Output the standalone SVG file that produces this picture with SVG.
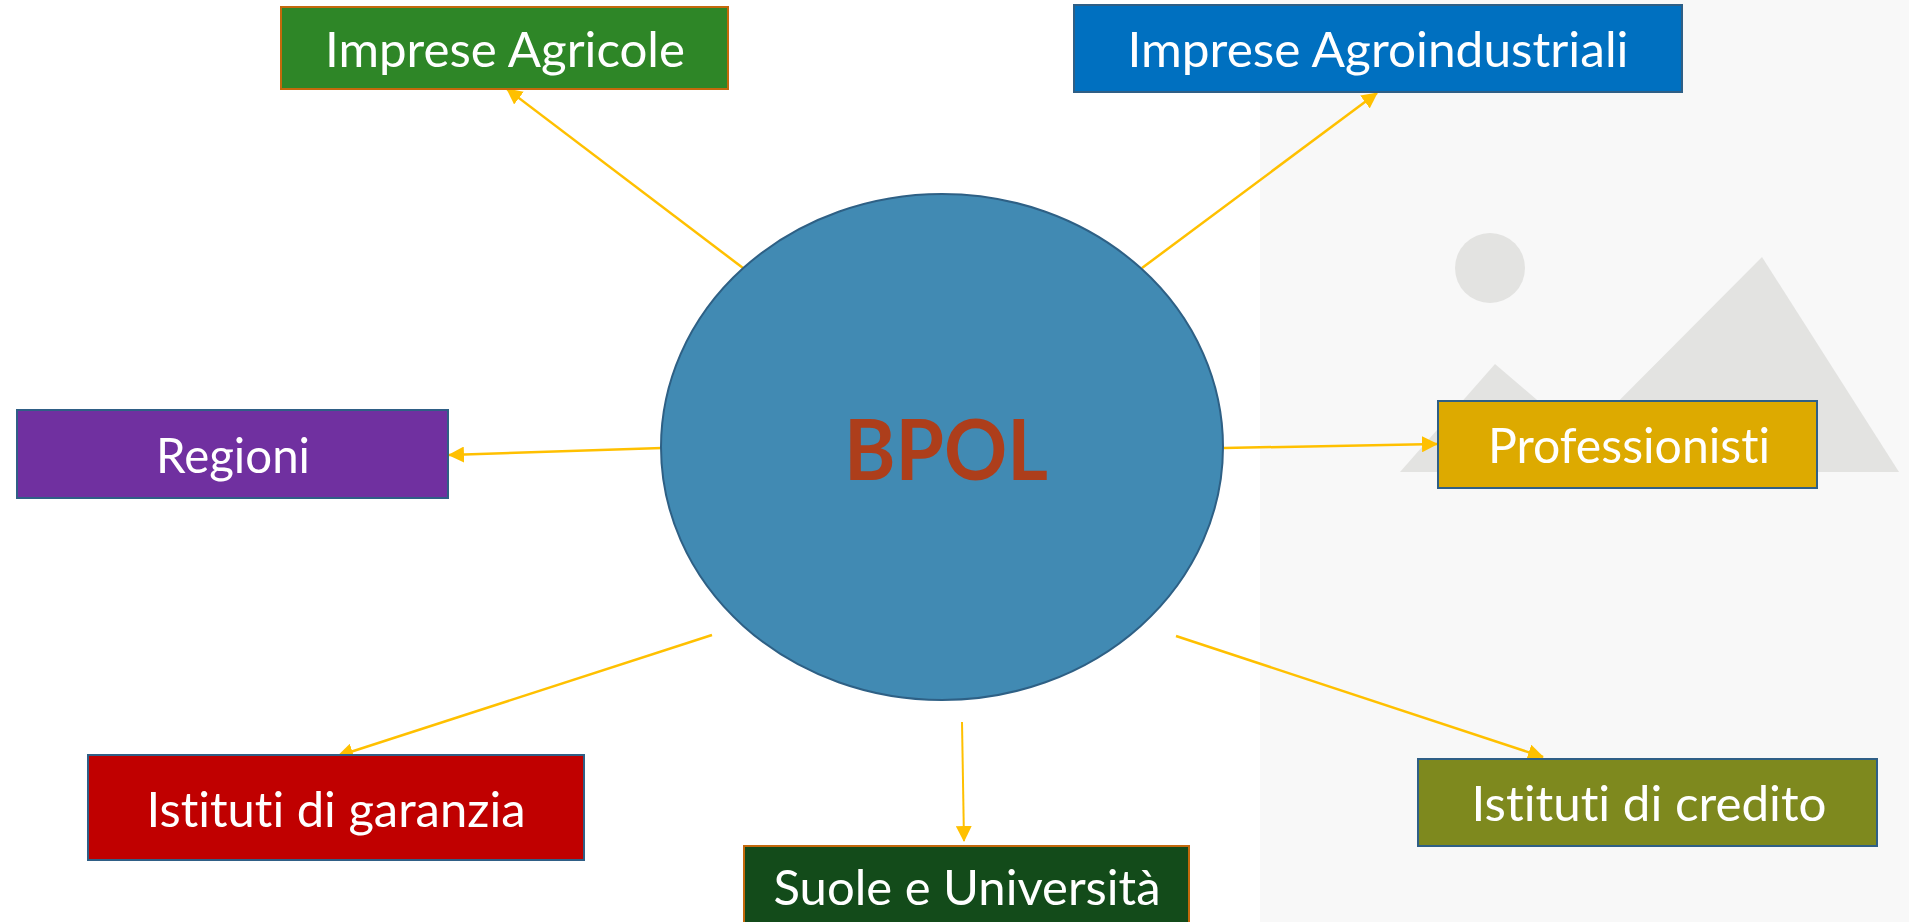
<svg xmlns="http://www.w3.org/2000/svg" width="1909" height="922" viewBox="0 0 1909 922">
<style>
text{font-variant-ligatures:none;font-feature-settings:"liga" 0,"clig" 0}
.lbl{font-family:Lato,"Open Sans","Liberation Sans",sans-serif;font-size:49px;fill:#ffffff;text-anchor:middle}
.box{stroke-width:2}
.ob{stroke:#C4690C}
.bb{stroke:#2F5F86}
.con{stroke:#FFC000;stroke-width:2.5;fill:none;marker-end:url(#ah)}
</style>
<defs>
<marker id="ah" markerUnits="userSpaceOnUse" markerWidth="16" markerHeight="16" refX="15" refY="8" orient="auto">
<path d="M0,0 L16,8 L0,16 z" fill="#FFC000"/>
</marker>
</defs>
<rect x="0" y="0" width="1909" height="922" fill="#ffffff"/>
<g id="background-picture">
<rect x="1260" y="0" width="649" height="922" fill="#F8F8F8"/>
<circle cx="1490" cy="268" r="35" fill="#E3E3E1"/>
<polygon points="1495,364 1621,472 1400,472" fill="#E3E3E1"/>
<polygon points="1762,257 1899,472 1548,472" fill="#E3E3E1"/>
</g>
<g id="connectors">
<path class="con" d="M743,268 L507,89"/>
<path class="con" d="M1142,268 L1377,93"/>
<path class="con" d="M662,448 L449,455"/>
<path class="con" d="M1224,448 L1437,444"/>
<path class="con" d="M712,635 L338,756"/>
<path class="con" style="stroke-width:2" d="M962,722 L964,841"/>
<path class="con" d="M1176,636 L1543,757"/>
</g>
<g id="bpol">
<ellipse cx="942" cy="447" rx="281" ry="253" fill="#418AB3" stroke="#2E6085" stroke-width="2"/>
<text x="946" y="480" font-family="Lato,'Open Sans','Liberation Sans',sans-serif" font-weight="bold" font-size="85" fill="#AD3E1B" text-anchor="middle" textLength="204" lengthAdjust="spacingAndGlyphs">BPOL</text>
</g>
<g id="imprese-agricole">
<rect class="box ob" x="281" y="7" width="447" height="82" fill="#2E8627"/>
<text class="lbl" x="505" y="67" textLength="360" lengthAdjust="spacingAndGlyphs">Imprese Agricole</text>
</g>
<g id="imprese-agroindustriali">
<rect class="box bb" x="1074" y="5" width="608" height="87" fill="#0070C0"/>
<text class="lbl" x="1378" y="67" textLength="501" lengthAdjust="spacingAndGlyphs">Imprese Agroindustriali</text>
</g>
<g id="regioni">
<rect class="box bb" x="17" y="410" width="431" height="88" fill="#7030A0"/>
<text class="lbl" x="233" y="473" textLength="154" lengthAdjust="spacingAndGlyphs">Regioni</text>
</g>
<g id="professionisti">
<rect class="box bb" x="1438" y="401" width="379" height="87" fill="#DDAA00"/>
<text class="lbl" x="1629" y="463" textLength="282" lengthAdjust="spacingAndGlyphs">Professionisti</text>
</g>
<g id="istituti-garanzia">
<rect class="box bb" x="88" y="755" width="496" height="105" fill="#C00000"/>
<text class="lbl" x="336" y="827" textLength="379" lengthAdjust="spacingAndGlyphs">Istituti di garanzia</text>
</g>
<g id="suole-universita">
<rect class="box ob" x="744" y="846" width="445" height="80" fill="#134B1A"/>
<text class="lbl" x="967" y="905" textLength="387" lengthAdjust="spacingAndGlyphs">Suole e Università</text>
</g>
<g id="istituti-credito">
<rect class="box bb" x="1418" y="759" width="459" height="87" fill="#7E891E"/>
<text class="lbl" x="1649" y="821" textLength="355" lengthAdjust="spacingAndGlyphs">Istituti di credito</text>
</g>
</svg>
